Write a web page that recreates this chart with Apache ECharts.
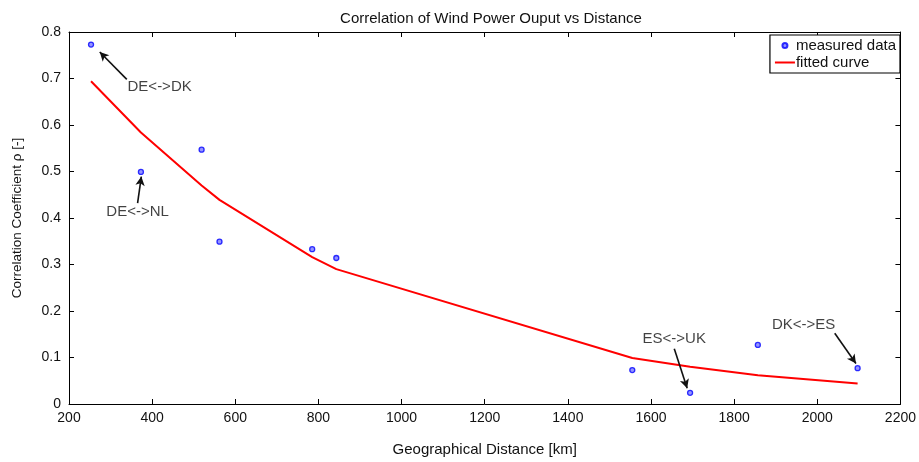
<!DOCTYPE html>
<html>
<head>
<meta charset="utf-8">
<script src="https://cdn.jsdelivr.net/npm/echarts@6/dist/echarts.min.js"></script>
<style>html,body{margin:0;padding:0;background:#fff}#c{width:919px;height:462px}</style>
</head>
<body>
<div id="c"></div>
<script>
// ---- data ----
const measX = [253, 373, 519, 562, 785, 843, 1555, 1694, 1857, 2097];
const measY = [0.773, 0.499, 0.547, 0.349, 0.333, 0.314, 0.073, 0.024, 0.127, 0.077];
const fitX  = [253, 373, 519, 562, 785, 843, 1555, 1694, 1857, 2097];
const fitY  = [0.694, 0.584, 0.470, 0.439, 0.316, 0.290, 0.099, 0.080, 0.062, 0.044];
const annText = ['DE<->DK', 'DE<->NL', 'ES<->UK', 'DK<->ES'];
const annTextPos = [[418, 0.681], [365, 0.414], [1656, 0.140], [1967, 0.170]];
const annTail = [[339, 0.698], [365, 0.432], [1656, 0.119], [2042, 0.152]];
const annHead = [[274, 0.757], [374, 0.489], [1687, 0.034], [2093, 0.087]];
const xTicks = {min: 200, max: 2200, interval: 200};
const yTicks = {min: 0, max: 0.8, interval: 0.1};

const FONT = 'Liberation Sans, Arial, sans-serif';
const chart = echarts.init(document.getElementById('c'));

const frameAxisX = (pos, show) => ({
  type: 'value', position: pos, min: xTicks.min, max: xTicks.max, interval: xTicks.interval,
  axisLine: {show: true, onZero: false, lineStyle: {color: '#000', width: 1}},
  axisTick: {show: true, inside: true, length: 5, lineStyle: {color: '#000'}},
  axisLabel: {show: show, color: '#111', fontSize: 14, fontFamily: FONT, margin: 7,
    formatter: v => String(Math.round(v))},
  splitLine: {show: false}
});
const frameAxisY = (pos, show) => ({
  type: 'value', position: pos, min: yTicks.min, max: yTicks.max, interval: yTicks.interval,
  axisLine: {show: true, onZero: false, lineStyle: {color: '#000', width: 1}},
  axisTick: {show: true, inside: true, length: 5, lineStyle: {color: '#000'}},
  axisLabel: {show: show, color: '#111', fontSize: 14, fontFamily: FONT, margin: 8,
    formatter: v => (Math.round(v * 10) / 10).toString()},
  splitLine: {show: false}
});

const xb = frameAxisX('bottom', true);
xb.name = 'Geographical Distance [km]';
xb.nameLocation = 'middle';
xb.nameGap = 38;
xb.nameTextStyle = {color: '#111', fontSize: 15, fontFamily: FONT};
const yl = frameAxisY('left', true);
yl.name = 'Correlation Coefficient \u03c1 [-]';
yl.nameLocation = 'middle';
yl.nameGap = 45;
yl.nameTextStyle = {color: '#111', fontSize: 13.5, fontFamily: FONT};

chart.setOption({
  animation: false,
  backgroundColor: '#fff',
  title: {
    text: 'Correlation of Wind Power Ouput vs Distance',
    left: 486, top: 6, textAlign: 'center',
    textStyle: {fontSize: 15, fontWeight: 'normal', color: '#111', fontFamily: FONT}
  },
  grid: {left: 69, right: 16, top: 32, bottom: 54, containLabel: false},
  xAxis: [xb, frameAxisX('top', false)],
  yAxis: [yl, frameAxisY('right', false)],
  legend: {
    data: [
      {name: 'measured data', icon: 'circle'},
      {name: 'fitted curve', icon: 'path://M0,0L20,0L20,2L0,2Z'}
    ],
    orient: 'vertical', right: 19, top: 35,
    backgroundColor: '#fff', borderColor: '#000', borderWidth: 1.2,
    padding: [3, 4, 3, 5], itemGap: 2, itemWidth: 20, itemHeight: 5,
    textStyle: {fontSize: 15, color: '#111', fontFamily: FONT, padding: [0, 0, 0, -4]}
  },
  series: [
    {
      name: 'fitted curve', type: 'line', xAxisIndex: 0, yAxisIndex: 0,
      data: fitX.map((x, i) => [x, fitY[i]]),
      showSymbol: false, symbol: 'none', smooth: false,
      lineStyle: {color: '#ff0000', width: 2}, itemStyle: {color: '#ff0000'}
    },
    {
      name: 'measured data', type: 'scatter', xAxisIndex: 0, yAxisIndex: 0,
      data: measX.map((x, i) => [x, measY[i]]),
      symbol: 'circle', symbolSize: 5,
      itemStyle: {color: '#7a7aff', borderColor: '#0000ff', borderWidth: 1.3},
      markLine: {
        silent: true, symbol: ['none', 'arrow'], symbolSize: [7, 9],
        lineStyle: {color: '#111', width: 1.6, type: 'solid'},
        label: {show: false},
        data: annTail.map((t, i) => [{coord: t}, {coord: annHead[i]}])
      }
    },
    {
      name: 'annotations', type: 'scatter', xAxisIndex: 0, yAxisIndex: 0,
      data: annTextPos.map((p, i) => [p[0], p[1], annText[i]]),
      symbolSize: 0, silent: true,
      label: {show: true, position: 'inside', formatter: p => p.value[2],
        color: '#111', fontSize: 15, fontFamily: FONT}
    }
  ]
});
</script>
</body>
</html>
